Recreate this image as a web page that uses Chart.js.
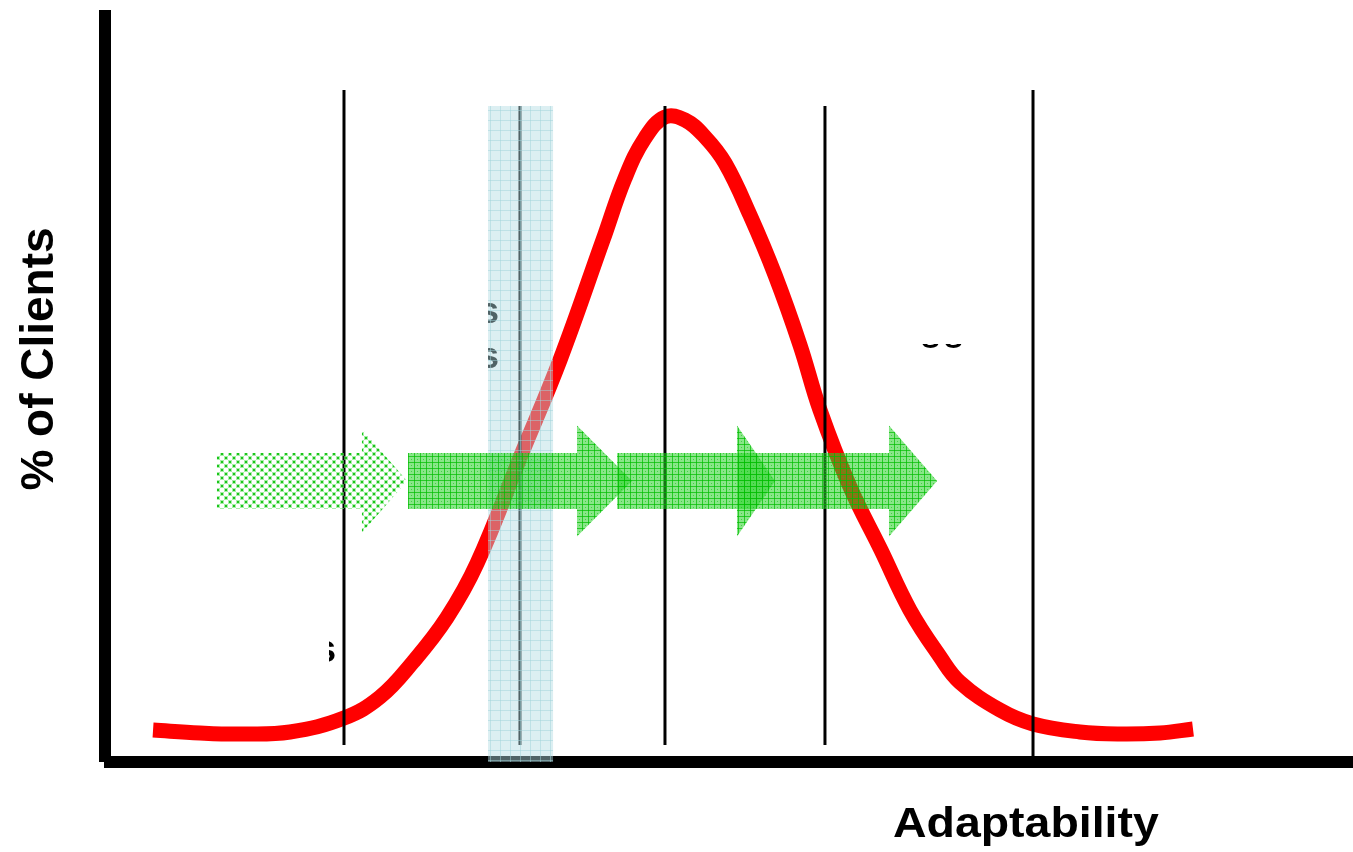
<!DOCTYPE html>
<html>
<head>
<meta charset="utf-8">
<script src="https://cdn.jsdelivr.net/npm/chart.js@4.4.0/dist/chart.umd.min.js"></script>
<style>
  html, body { margin: 0; padding: 0; background: #fff; }
  #wrap { width: 1353px; height: 852px; }
</style>
</head>
<body>
<div id="wrap"><canvas id="chart" width="1353" height="852"></canvas></div>
<script>
// bell curve: x = adaptability, y = % of clients (both on a 0..100 scale)
let curveX = [3.85, 7.61, 10.82, 14.82, 19.15, 22.04, 24.68, 27.40, 29.81, 33.41, 36.46, 39.90, 41.67, 43.27,
      44.87, 46.47, 48.08, 49.68, 51.68, 53.69, 55.69, 57.29, 59.70, 62.18, 64.50, 66.91, 68.51, 71.71,
      74.36, 78.12, 81.33, 84.54, 87.18];
let curveY = [4.26, 3.86, 3.72, 3.99, 5.85, 8.64, 13.30, 19.20, 26.40, 41.09, 53.46, 69.41, 77.66, 82.98,
      85.77, 85.37, 83.11, 79.65, 72.74, 64.76, 55.45, 46.81, 36.57, 28.19, 20.21, 14.00, 10.60, 6.90,
      5.05, 3.99, 3.72, 3.86, 4.39];

// vertical dividers
let dividerX = [19.15, 33.25, 44.87, 57.69, 74.36];
let dividerTop = [89.36, 87.23, 87.23, 87.23, 89.36];
let dividerBottom = [2.26, 2.26, 2.26, 2.26, 0.66];

// highlighted band
let bandFrom = 30.69;
let bandTo = 35.90;
let bandTop = 87.23;

// arrows (left end, start of head, tip)
let arrowStart = [8.97, 24.28, 41.03, 50.64];
let arrowHeadStart = [20.59, 37.82, 50.64, 62.82];
let arrowEnd = [24.20, 42.23, 53.69, 66.67];
let arrowLevel = 37.37;

let xTitle = "Adaptability";
let yTitle = "% of Clients";

const FONT = '"Liberation Sans", Arial, sans-serif';
const BODY_HALF = 3.72;
const HEAD_HALF = 7.38;

let makePattern = (size, drawTile) => {
      let c = document.createElement('canvas');
      c.width = c.height = size;
      let t = c.getContext('2d');
      drawTile(t, size);
      return t.createPattern(c, 'repeat');
};

let dottedGreen = makePattern(8, (t) => {
      t.fillStyle = 'rgba(110,225,110,0.6)';
      t.fillRect(0, 0, 4, 4);
      t.fillRect(4, 4, 4, 4);
      t.fillStyle = 'rgba(20,195,20,0.95)';
      t.fillRect(1, 1, 2, 2);
      t.fillRect(5, 5, 2, 2);
});

let gridGreen = makePattern(6, (t, s) => {
      t.fillStyle = 'rgba(40,210,40,0.55)';
      t.fillRect(0, 0, s, s);
      t.fillStyle = 'rgba(0,190,0,0.7)';
      t.fillRect(0, 0, s, 1);
      t.fillRect(0, 0, 1, s);
      t.fillStyle = 'rgba(30,200,30,0.65)';
      t.fillRect(3, 3, 1, 1);
});

let gridBlue = makePattern(10, (t, s) => {
      t.fillStyle = 'rgba(178,220,226,0.45)';
      t.fillRect(0, 0, s, s);
      t.fillStyle = 'rgba(160,212,218,0.5)';
      t.fillRect(0, 0, s, 1);
      t.fillRect(0, 0, 1, s);
});

let datasets = [];

// arrows on top
arrowStart.forEach((x0, i) => {
      let hh = i === 0 ? 6.9 : HEAD_HALF;
      let y = arrowLevel;
      datasets.push({
            data: [
                  {x: x0, y: y + BODY_HALF},
                  {x: arrowHeadStart[i], y: y + BODY_HALF},
                  {x: arrowHeadStart[i], y: y + hh},
                  {x: arrowEnd[i], y: y},
                  {x: arrowHeadStart[i], y: y - hh},
                  {x: arrowHeadStart[i], y: y - BODY_HALF},
                  {x: x0, y: y - BODY_HALF},
                  {x: x0, y: y + BODY_HALF}
            ],
            showLine: true,
            fill: 'shape',
            backgroundColor: i === 0 ? dottedGreen : gridGreen,
            borderWidth: 0,
            borderColor: 'rgba(0,0,0,0)',
            pointRadius: 0,
            tension: 0,
            order: 1
      });
});

// band
datasets.push({
      data: [
            {x: bandFrom, y: 0},
            {x: bandFrom, y: bandTop},
            {x: bandTo, y: bandTop},
            {x: bandTo, y: 0},
            {x: bandFrom, y: 0}
      ],
      showLine: true,
      fill: 'shape',
      backgroundColor: gridBlue,
      borderWidth: 0,
      borderColor: 'rgba(0,0,0,0)',
      pointRadius: 0,
      tension: 0,
      order: 2
});

// dividers
dividerX.forEach((x, i) => {
      datasets.push({
            data: [{x: x, y: dividerBottom[i]}, {x: x, y: dividerTop[i]}],
            showLine: true,
            borderColor: '#000',
            borderWidth: 3,
            pointRadius: 0,
            fill: false,
            order: 3
      });
});

// bell curve
datasets.push({
      data: curveX.map((x, i) => ({x: x, y: curveY[i]})),
      showLine: true,
      borderColor: '#ff0000',
      borderWidth: 15,
      borderCapStyle: 'butt',
      borderJoinStyle: 'round',
      tension: 0.4,
      pointRadius: 0,
      fill: false,
      order: 4
});

// axes, half-hidden labels and axis titles
let decorations = {
      id: 'decorations',
      beforeDatasetsDraw: (chart) => {
            let ctx = chart.ctx;
            let area = chart.chartArea;
            let xs = chart.scales.x;
            ctx.save();
            ctx.fillStyle = '#000';
            ctx.fillRect(area.left - 6, area.top, 12, area.bottom - area.top);
            ctx.fillRect(area.left - 1, area.bottom - 6, area.right - area.left + 1, 12);

            // label fragments left over from the original slide
            ctx.font = 'bold 36px ' + FONT;
            let bandLeft = xs.getPixelForValue(bandFrom);
            ctx.save();
            ctx.beginPath();
            ctx.rect(bandLeft, 290, 30, 90);
            ctx.clip();
            ctx.fillText('s', bandLeft - 9, 323);
            ctx.fillText('s', bandLeft - 9, 368);
            ctx.restore();

            ctx.save();
            ctx.beginPath();
            ctx.rect(329, 640, 10, 30);
            ctx.clip();
            ctx.font = 'bold 38px ' + FONT;
            ctx.fillText('s', 315, 662);
            ctx.restore();

            ctx.save();
            ctx.beginPath();
            ctx.rect(900, 344, 80, 5);
            ctx.clip();
            ctx.font = 'bold 34px ' + FONT;
            ctx.fillText('s', 921, 348);
            ctx.fillText('s', 944, 348);
            ctx.restore();
            ctx.restore();
      },
      afterDraw: (chart) => {
            let ctx = chart.ctx;
            ctx.save();
            ctx.fillStyle = '#000';
            ctx.font = 'bold 46px ' + FONT;
            ctx.textAlign = 'center';
            ctx.textBaseline = 'alphabetic';
            ctx.translate(53, 359);
            ctx.rotate(-Math.PI / 2);
            ctx.fillText(yTitle, 0, 0);
            ctx.restore();

            ctx.save();
            ctx.fillStyle = '#000';
            ctx.font = 'bold 43px ' + FONT;
            ctx.textAlign = 'left';
            ctx.textBaseline = 'alphabetic';
            ctx.translate(893, 837);
            ctx.scale(1.08, 1);
            ctx.fillText(xTitle, 0, 0);
            ctx.restore();
      }
};

new Chart(document.getElementById('chart').getContext('2d'), {
      type: 'scatter',
      data: {datasets: datasets},
      options: {
            responsive: false,
            animation: false,
            devicePixelRatio: 1,
            layout: {padding: {left: 105, right: 0, top: 10, bottom: 90}},
            plugins: {legend: {display: false}, tooltip: {enabled: false}},
            scales: {
                  x: {type: 'linear', min: 0, max: 100, display: false},
                  y: {type: 'linear', min: 0, max: 100, display: false}
            }
      },
      plugins: [decorations]
});
</script>
</body>
</html>
